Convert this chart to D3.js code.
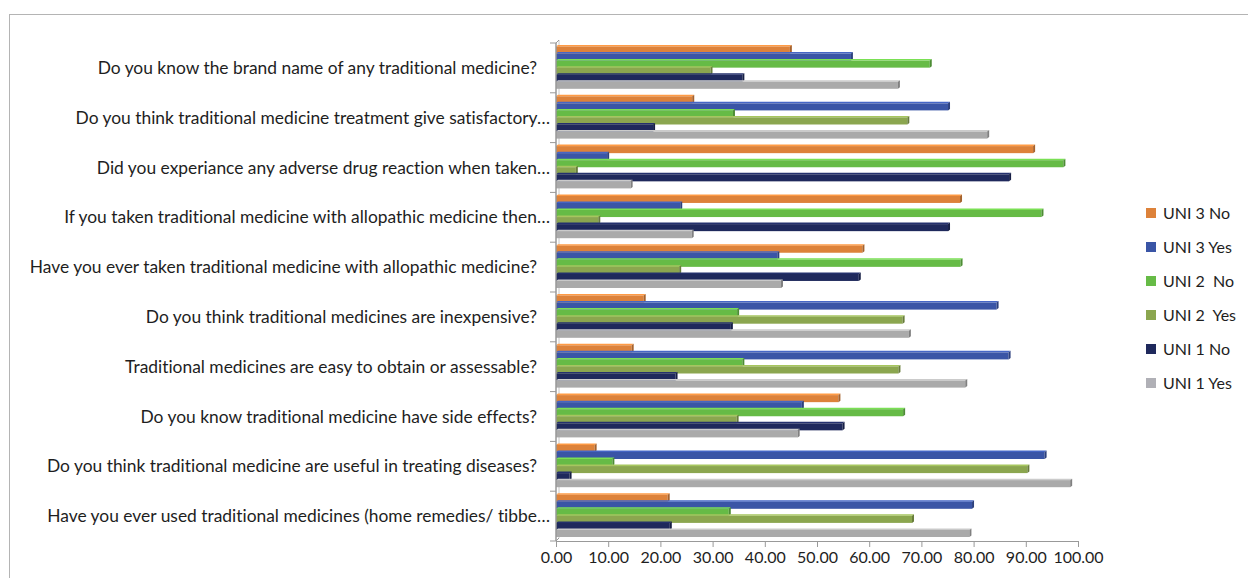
<!DOCTYPE html>
<html>
<head>
<meta charset="utf-8">
<script src="https://cdn.jsdelivr.net/npm/d3@7/dist/d3.min.js"></script>
<style>
  html, body { margin: 0; padding: 0; background: #fff; }
  svg { display: block; }
  text { font-family: Lato, "Liberation Sans", Arial, sans-serif; fill: #1e1e1e; font-variant-ligatures: none; }
</style>
</head>
<body>
<svg id="chart" width="1248" height="578"></svg>
<script>
// Survey questions, top to bottom
const questions = [
  "Do you know the brand name of any traditional medicine?",
  "Do you think traditional medicine treatment give satisfactory…",
  "Did you experiance any adverse drug reaction when taken…",
  "If you taken traditional medicine with allopathic medicine then…",
  "Have you ever taken traditional medicine with allopathic medicine?",
  "Do you think traditional medicines are inexpensive?",
  "Traditional medicines are easy to obtain or assessable?",
  "Do you know traditional medicine have side effects?",
  "Do you think traditional medicine are useful in treating diseases?",
  "Have you ever used traditional medicines (home remedies/ tibbe…"
];

// Series names, in the order drawn inside each group (top to bottom)
const seriesNames = ["UNI 3 No", "UNI 3 Yes", "UNI 2  No", "UNI 2  Yes", "UNI 1 No", "UNI 1 Yes"];
const seriesColors = ["#DD823A", "#3A55A6", "#66BB46", "#8BA64F", "#1F295C", "#AAAAAA"];
const legendColors = ["#DD823A", "#3A55A6", "#66BB46", "#8BA64F", "#1F295C", "#B0B0B6"];

// Percentages per series, one value per question
const uni3No  = [44.8, 26.1, 91.4, 77.4, 58.7, 16.8, 14.5, 54.1,  7.4, 21.4];
const uni3Yes = [56.5, 75.1,  9.8, 23.8, 42.4, 84.4, 86.7, 47.1, 93.6, 79.7];
const uni2No  = [71.6, 33.9, 97.2, 93.0, 77.5, 34.7, 35.7, 66.5, 10.8, 33.1];
const uni2Yes = [29.6, 67.3,  3.8,  8.1, 23.6, 66.4, 65.6, 34.6, 90.3, 68.2];
const uni1No  = [35.7, 18.6, 86.8, 75.1, 58.0, 33.5, 22.9, 54.9,  2.6, 21.8];
const uni1Yes = [65.5, 82.6, 14.3, 26.0, 43.1, 67.6, 78.4, 46.3, 98.5, 79.2];

const seriesValues = [uni3No, uni3Yes, uni2No, uni2Yes, uni1No, uni1Yes];
const xTicks = [0, 10, 20, 30, 40, 50, 60, 70, 80, 90, 100];

const labelSize = 17.4;
const fontSize = 16;
const svg = d3.select("#chart");

// Outer chart frame
svg.append("rect")
  .attr("x", 9.5).attr("y", 14.5)
  .attr("width", 1260).attr("height", 600)
  .attr("fill", "none").attr("stroke", "#b4b4b4").attr("stroke-width", 1);

const x = d3.scaleLinear().domain([0, 100]).range([556, 1078]);
const y = d3.scaleBand().domain(questions).range([43, 541]);
const inner = d3.scaleBand().domain(seriesNames).range([3.5, y.bandwidth() - 4]).padding(0);

// Back wall edge and floor of the 3D plot area
const depth = 3;
svg.append("line")
  .attr("x1", x(0) + depth).attr("x2", x(0) + depth)
  .attr("y1", y.range()[0] - depth).attr("y2", y.range()[1] - depth)
  .attr("stroke", "#c8c8c8").attr("stroke-width", 1);
svg.append("line")
  .attr("x1", x(0)).attr("x2", x(0) + depth)
  .attr("y1", y.range()[0]).attr("y2", y.range()[0] - depth)
  .attr("stroke", "#999").attr("stroke-width", 1);
svg.append("line")
  .attr("x1", x(0)).attr("x2", x(0) + depth)
  .attr("y1", y.range()[1]).attr("y2", y.range()[1] - depth)
  .attr("stroke", "#999").attr("stroke-width", 1);

// Bars with a shallow 3D top and end face
seriesNames.forEach((name, si) => {
  const col = d3.color(seriesColors[si]);
  const data = seriesValues[si].map((v, qi) => ({ q: questions[qi], v }));
  const g = svg.append("g");
  data.forEach(d => {
    const y0 = y(d.q) + inner(name);
    const h = inner.bandwidth();
    const x0 = x(0), x1 = x(d.v);
    g.append("path")
      .attr("d", `M${x0},${y0} L${x0 + 2},${y0 - 1.5} L${x1 + 2},${y0 - 1.5} L${x1},${y0} Z`)
      .attr("fill", col.brighter(0.5));
    g.append("rect")
      .attr("x", x0).attr("y", y0)
      .attr("width", Math.max(0, x1 - x0)).attr("height", h)
      .attr("fill", col);
    g.append("path")
      .attr("d", `M${x1},${y0} L${x1 + 2},${y0 - 1.5} L${x1 + 2},${y0 + h - 1.5} L${x1},${y0 + h} Z`)
      .attr("fill", col.darker(0.8));
  });
});

// Vertical (category) axis
svg.append("line")
  .attr("x1", x(0)).attr("x2", x(0))
  .attr("y1", y.range()[0]).attr("y2", y.range()[1])
  .attr("stroke", "#999").attr("stroke-width", 1.5);
const catTicks = questions.map(q => y(q)).concat([y.range()[1]]);
svg.append("g").selectAll("line")
  .data(catTicks)
  .join("line")
  .attr("x1", x(0) - 6).attr("x2", x(0))
  .attr("y1", d => d).attr("y2", d => d)
  .attr("stroke", "#999");

// Category labels; clipped labels with an ellipsis run a little further right
svg.append("g").selectAll("text")
  .data(questions)
  .join("text")
  .attr("x", d => d.endsWith("…") ? 550 : 537)
  .attr("y", d => y(d) + y.bandwidth() / 2)
  .attr("dy", "0.35em")
  .attr("text-anchor", "end")
  .attr("font-size", labelSize)
  .text(d => d);

// Value axis
const xAxis = d3.axisBottom(x)
  .tickValues(xTicks)
  .tickSize(6)
  .tickPadding(5)
  .tickFormat(d3.format(".2f"));
const ax = svg.append("g")
  .attr("transform", `translate(0,${y.range()[1]})`)
  .call(xAxis);
ax.select(".domain").attr("stroke", "#999");
ax.selectAll(".tick line").attr("stroke", "#999");
ax.selectAll(".tick text")
  .attr("font-size", fontSize)
  .attr("font-family", "Lato, Liberation Sans, Arial, sans-serif")
  .attr("fill", "#1e1e1e");

// Legend
const legend = svg.append("g").selectAll("g")
  .data(seriesNames)
  .join("g")
  .attr("transform", (d, i) => `translate(1146,${213 + i * 34})`);
legend.append("rect")
  .attr("x", 0).attr("y", -5)
  .attr("width", 10).attr("height", 10)
  .attr("fill", (d, i) => legendColors[i]);
legend.append("text")
  .attr("x", 17).attr("y", 0).attr("dy", "0.35em")
  .attr("font-size", fontSize)
  .style("white-space", "pre")
  .text(d => d);
</script>
</body>
</html>
